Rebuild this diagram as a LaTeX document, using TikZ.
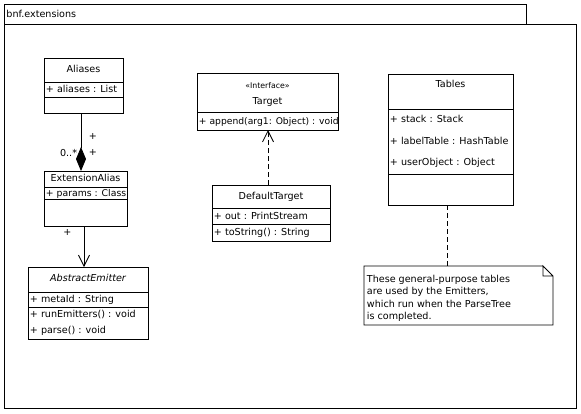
\documentclass[tikz,border=0pt]{standalone}
\usepackage{fontspec}
\setmainfont{DejaVu Sans}
\usetikzlibrary{arrows.meta,calc}
\begin{document}
\begin{tikzpicture}[x=1pt,y=-1pt,
  font=\fontsize{9.6}{11}\selectfont, line width=0.85pt,
  box/.style={draw, anchor=north west, inner sep=0pt, outer sep=0pt},
  txt/.style={anchor=west, inner sep=0pt, text height=7pt, text depth=2pt},
  ctr/.style={anchor=center, inner sep=0pt, text height=7pt, text depth=2pt},
  dep/.style={dash pattern=on 5pt off 3pt},
  openhead/.style={-{Straight Barb[length=11pt,width=11pt,line width=0.85pt]}}
]
\useasboundingbox (0,0) rectangle (581,413);

% package
\node[box, minimum width=522, minimum height=20] (tab) at (4,4) {};
\node[box, minimum width=572, minimum height=384] (pkg) at (4,24) {};
\node[txt] (pkgname) at (6,14.5) {bnf.extensions};

% Aliases
\node[box, minimum width=79, minimum height=55] (aliases) at (44,58) {};
\draw (44,82) -- (123,82) (44,97) -- (123,97);
\node[ctr] (aliasesname) at (83.5,70) {Aliases};
\node[txt] (aliasesattr) at (45.5,89.5) {+ aliases : List};

% ExtensionAlias
\node[box, minimum width=83, minimum height=55] (extalias) at (44,171) {};
\draw (44,187) -- (127,187) (44,199.5) -- (127,199.5);
\node[ctr] (extaliasname) at (85.5,179) {ExtensionAlias};
\node[txt, font=\fontsize{9.3}{11}\selectfont] (extaliasattr) at (45.5,193.5) {+ params : Class};

% AbstractEmitter
\node[box, minimum width=120, minimum height=72] (abstract) at (28,267) {};
\draw (28,292) -- (148,292) (28,307) -- (148,307);
\node[ctr, font=\fontsize{9.6}{11}\selectfont\itshape] (abstractname) at (88,279) {AbstractEmitter};
\node[txt] (abstractattr) at (29.5,299.5) {+ metaId : String};
\node[txt] (abstractm1) at (29.5,315) {+ runEmitters() : void};
\node[txt] (abstractm2) at (29.5,331) {+ parse() : void};

% Target
\node[box, minimum width=141, minimum height=57] (target) at (197,73) {};
\draw (197,112) -- (338,112);
\node[ctr, font=\fontsize{7.8}{9}\selectfont] (targetstereo) at (267.5,85.5) {«Interface»};
\node[ctr] (targetname) at (267.5,102) {Target};
\node[txt, font=\fontsize{9.2}{11}\selectfont] (targetm1) at (198.5,121.5) {+ append(arg1: Object) : void};

% DefaultTarget
\node[box, minimum width=118, minimum height=56] (deftarget) at (212,185) {};
\draw (212,208.5) -- (330,208.5) (212,224.5) -- (330,224.5);
\node[ctr] (deftargetname) at (271,196.5) {DefaultTarget};
\node[txt] (deftargetattr) at (213.5,216.5) {+ out : PrintStream};
\node[txt] (deftargetm1) at (213.5,232.5) {+ toString() : String};

% Tables
\node[box, minimum width=125, minimum height=131] (tables) at (388,74) {};
\draw (388,109) -- (513,109) (388,174) -- (513,174);
\node[ctr] (tablesname) at (450.5,85) {Tables};
\node[txt] (tablesa1) at (389.5,120) {+ stack : Stack};
\node[txt] (tablesa2) at (389.5,141.5) {+ labelTable : HashTable};
\node[txt] (tablesa3) at (389.5,162.5) {+ userObject : Object};

% Note
\node[anchor=north west, inner sep=0pt, outer sep=0pt, minimum width=189, minimum height=59] (note) at (364,266) {};
\draw ([xshift=-10pt]note.north east) -- (note.north west) -- (note.south west)
  -- (note.south east) -- ([yshift=-10pt]note.north east) -- ([xshift=-10pt]note.north east)
  -- ([xshift=-10pt,yshift=-10pt]note.north east) -- ([yshift=-10pt]note.north east);
\node[txt] (notel1) at (366.5,279.5) {These general-purpose tables};
\node[txt] (notel2) at (366.5,292) {are used by the Emitters,};
\node[txt] (notel3) at (366.5,304.5) {which run when the ParseTree};
\node[txt] (notel4) at (366.5,317) {is completed.};

% connectors
\draw[-{Diamond[length=24pt,width=10pt]}] ([xshift=37pt]aliases.south west) -- ([xshift=37pt]aliases.south west |- extalias.north);
\node[ctr] (plus1) at (93,137) {+};
\node[ctr] (plus2) at (93,153) {+};
\node[anchor=east, inner sep=0pt, text height=7pt, text depth=2pt] (mult) at (77.5,154) {0..*};

\draw[openhead] ([xshift=40pt]extalias.south west) -- ([xshift=40pt]extalias.south west |- abstract.north);
\node[ctr] (plus3) at (67.5,233) {+};

\draw[dep, openhead] ([xshift=-3pt]deftarget.north) -- ([xshift=-3pt]deftarget.north |- target.south);

\draw[dep] ([xshift=-3.5pt]tables.south) -- ([xshift=-3.5pt]tables.south |- note.north);
\end{tikzpicture}
\end{document}
